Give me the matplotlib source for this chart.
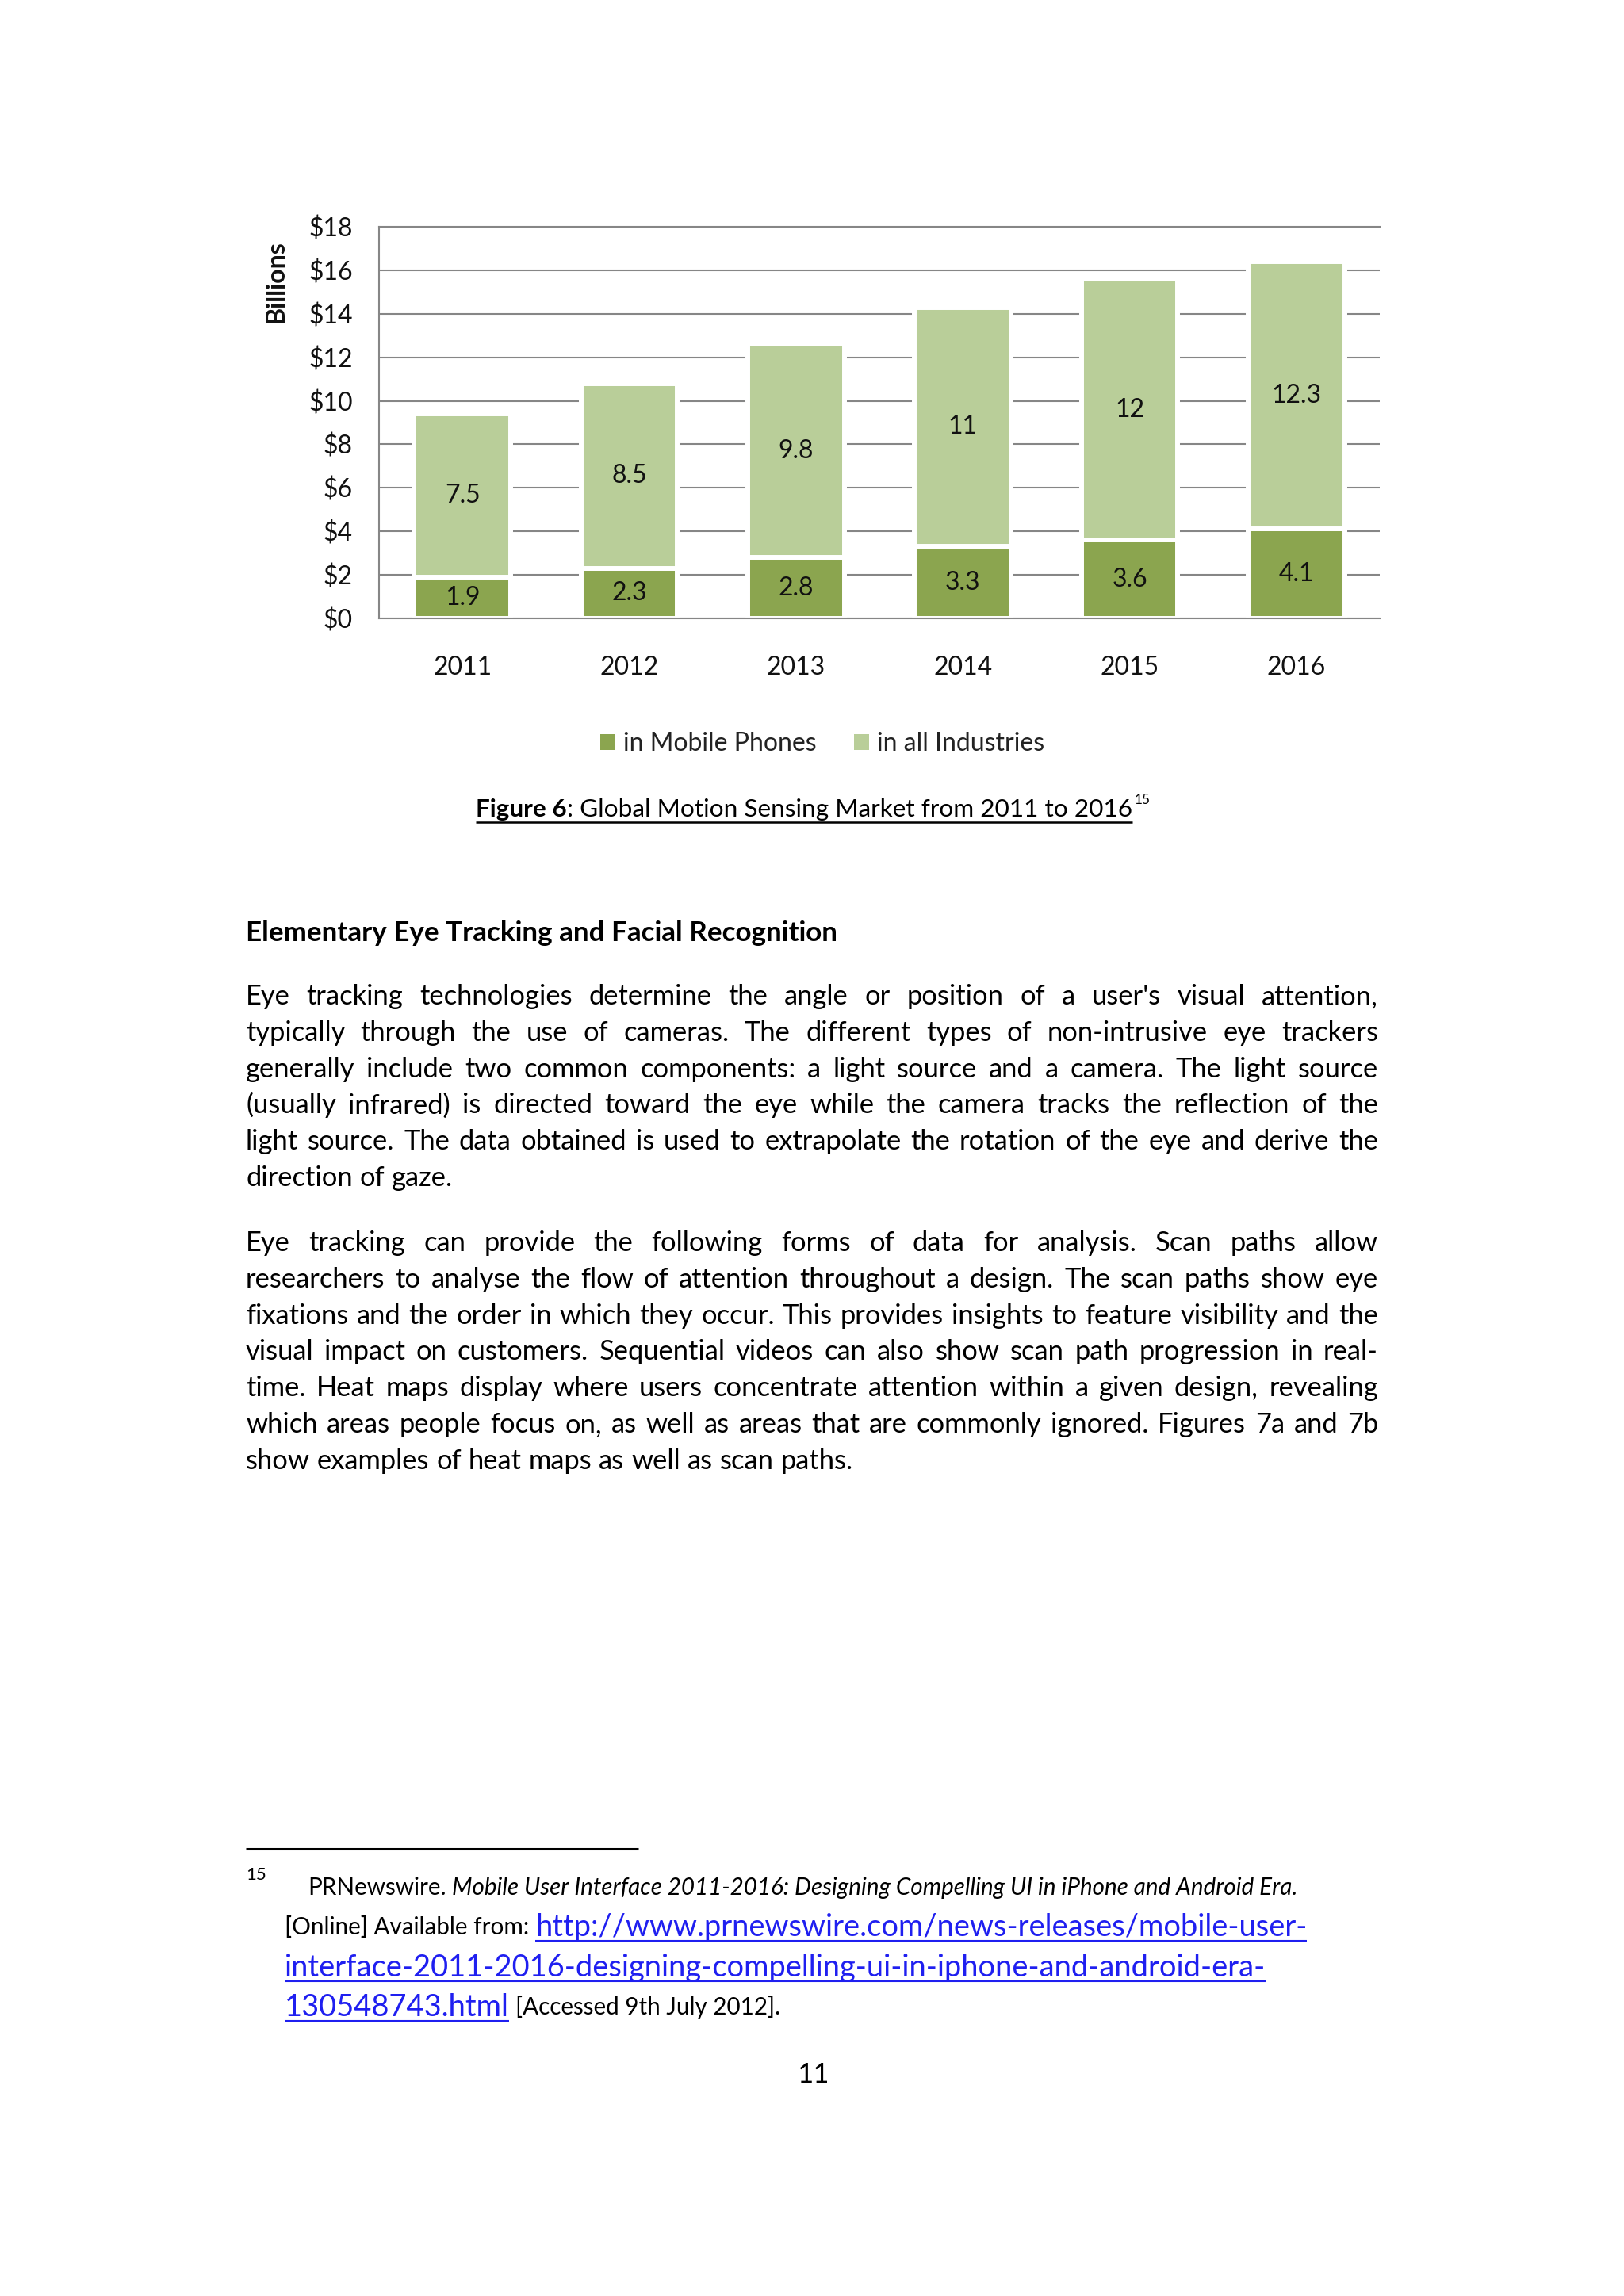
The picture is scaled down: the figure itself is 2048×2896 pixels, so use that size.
import matplotlib
matplotlib.use('Agg')
import matplotlib.pyplot as plt
import numpy as np
from matplotlib.patches import Patch

plt.rcParams['font.family'] = ['Lato', 'DejaVu Sans']

W, H = 2048, 2896
DPI = 100

# chart data
years = ['2011', '2012', '2013', '2014', '2015', '2016']
mobile = [1.9, 2.3, 2.8, 3.3, 3.6, 4.1]
industries = [7.5, 8.5, 9.8, 11, 12, 12.3]
y_ticks = [0, 2, 4, 6, 8, 10, 12, 14, 16, 18]
y_tick_labels = ['$' + str(v) for v in y_ticks]
series_names = ['in Mobile Phones', 'in all Industries']

# page text
caption_bold = 'Figure 6'
caption_rest = ': Global Motion Sensing Market from 2011 to 2016'
caption_note = '15'
heading = 'Elementary Eye Tracking and Facial Recognition'
para1 = [
    "Eye tracking technologies determine the angle or position of a user's visual attention,",
    "typically through the use of cameras. The different types of non-intrusive eye trackers",
    "generally include two common components: a light source and a camera. The light source",
    "(usually infrared) is directed toward the eye while the camera tracks the reflection of the",
    "light source. The data obtained is used to extrapolate the rotation of the eye and derive the",
    "direction of gaze.",
]
para2 = [
    "Eye tracking can provide the following forms of data for analysis. Scan paths allow",
    "researchers to analyse the flow of attention throughout a design. The scan paths show eye",
    "fixations and the order in which they occur. This provides insights to feature visibility and the",
    "visual impact on customers. Sequential videos can also show scan path progression in real-",
    "time. Heat maps display where users concentrate attention within a given design, revealing",
    "which areas people focus on, as well as areas that are commonly ignored. Figures 7a and 7b",
    "show examples of heat maps as well as scan paths.",
]
fn_num = '15'
fn_src = 'PRNewswire.'
fn_title = 'Mobile User Interface 2011-2016: Designing Compelling UI in iPhone and Android Era.'
fn_online = '[Online] Available from:'
fn_url = ['http://www.prnewswire.com/news-releases/mobile-user-',
          'interface-2011-2016-designing-compelling-ui-in-iphone-and-android-era-',
          '130548743.html']
fn_accessed = '[Accessed 9th July 2012].'
page_no = '11'

c_mobile = '#8BA54F'
c_ind = '#B9CE99'
c_grid = '#868686'
c_url = '#1F1FF0'
chart_fs = 23

fig = plt.figure(figsize=(W / DPI, H / DPI), dpi=DPI)
fig.patch.set_facecolor('white')

# page overlay in pixel coordinates (y downwards)
page = fig.add_axes([0, 0, 1, 1])
page.set_xlim(0, W)
page.set_ylim(H, 0)
page.axis('off')
renderer = fig.canvas.get_renderer()


def measure(s, **kw):
    t = page.text(0, 0, s, **kw)
    w = t.get_window_extent(renderer).width
    t.remove()
    return w


def space_w(**kw):
    return measure('n n', **kw) - measure('nn', **kw)


def put(x, y, s, **kw):
    page.text(x, y, s, va='baseline', ha='left', **kw)
    return x + measure(s, **kw)


def draw_line(line, x0, x1, y, justify, **kw):
    words = line.split(' ')
    ws = [measure(w, **kw) for w in words]
    if justify and len(words) > 1:
        gap = (x1 - x0 - sum(ws)) / (len(words) - 1)
    else:
        gap = space_w(**kw)
    x = x0
    for w, ww in zip(words, ws):
        page.text(x, y, w, va='baseline', ha='left', **kw)
        x += ww + gap


def natural(line, **kw):
    words = line.split(' ')
    return sum(measure(w, **kw) for w in words) + (len(words) - 1) * space_w(**kw)


# ---- chart ----
L, R, T, B = 478, 1740, 286, 780
ax = fig.add_axes([L / W, 1 - B / H, (R - L) / W, (B - T) / H])
x = np.arange(len(years))
ax.bar(x, mobile, width=0.58, color=c_mobile, edgecolor='white', linewidth=4.3, zorder=3)
ax.bar(x, industries, width=0.58, bottom=mobile, color=c_ind, edgecolor='white',
       linewidth=4.3, zorder=3)
for i in range(len(years)):
    ax.text(x[i], mobile[i] / 2, '{:g}'.format(mobile[i]), ha='center', va='center',
            fontsize=chart_fs, color='#111111', zorder=5)
    ax.text(x[i], mobile[i] + industries[i] / 2, '{:g}'.format(industries[i]),
            ha='center', va='center', fontsize=chart_fs, color='#111111', zorder=5)

ax.set_xlim(-0.5, len(years) - 0.5)
ax.set_ylim(0, 18)
ax.set_yticks(y_ticks)
ax.set_yticklabels(y_tick_labels)
ax.set_xticks(x)
ax.set_xticklabels(years)
ax.tick_params(axis='y', length=0, pad=24, labelsize=chart_fs, labelcolor='#111111')
ax.tick_params(axis='x', length=0, pad=34, labelsize=chart_fs, labelcolor='#111111')
ax.yaxis.grid(True, color=c_grid, linewidth=1.5)
ax.set_axisbelow(True)
for side in ['left', 'bottom', 'top']:
    ax.spines[side].set_color(c_grid)
    ax.spines[side].set_linewidth(1.5)
    ax.spines[side].set_zorder(4)
ax.spines['right'].set_visible(False)
ax.spines['top'].set_zorder(1)
ax.text(-0.103, 0.86, 'Billions', rotation=90, ha='center', va='center',
        transform=ax.transAxes, fontsize=23, fontweight='bold', color='#111111')

handles = [Patch(facecolor=c_mobile), Patch(facecolor=c_ind)]
ax.legend(handles, series_names, loc='center', bbox_to_anchor=(1037 / W, 1 - 938 / H),
          bbox_transform=fig.transFigure, ncol=2, frameon=False, fontsize=chart_fs,
          handlelength=0.6, handleheight=0.6, handletextpad=0.3, columnspacing=1.5,
          labelcolor='#222222')

# ---- caption ----
cap_w = measure(caption_bold, fontsize=20, fontweight='bold') + measure(caption_rest, fontsize=20)
cap_size = 20 * 825 / cap_w
cy = 1030
cx = put(600, cy, caption_bold, fontsize=cap_size, fontweight='bold')
cx = put(cx, cy, caption_rest, fontsize=cap_size)
page.plot([600, cx], [cy + 7, cy + 7], color='black', linewidth=1.8, solid_capstyle='butt')
put(cx + 3, cy - 16, caption_note, fontsize=cap_size * 0.55)

# ---- heading ----
head_size = 20 * 746 / measure(heading, fontsize=20, fontweight='bold')
put(310, 1187, heading, fontsize=head_size, fontweight='bold')

# ---- body ----
X0, X1 = 310, 1738
body = 20 * 781 / natural(para2[-1], fontsize=20)
widest = max(natural(l, fontsize=body) for l in para1[:-1] + para2[:-1])
if widest > (X1 - X0) - 20:
    body *= ((X1 - X0) - 20) / widest
lh = 45.8
for k, line in enumerate(para1):
    draw_line(line, X0, X1, 1267 + k * lh, k < len(para1) - 1, fontsize=body)
for k, line in enumerate(para2):
    draw_line(line, X0, X1, 1578 + k * lh, k < len(para2) - 1, fontsize=body)

# ---- footnote ----
page.plot([310, 805], [2332, 2332], color='black', linewidth=2.2, solid_capstyle='butt')
fn_w = (measure(fn_src, fontsize=20) + space_w(fontsize=20)
        + measure(fn_title, fontsize=20, style='italic'))
fn_size = 20 * 1247 / fn_w
url_size = 20 * 976 / measure(fn_url[0], fontsize=20)
put(310, 2371, fn_num, fontsize=fn_size * 0.75)
fx = put(388, 2390, fn_src, fontsize=fn_size)
put(fx + space_w(fontsize=fn_size), 2390, fn_title, fontsize=fn_size, style='italic')

ux = put(359, 2440, fn_online, fontsize=fn_size) + space_w(fontsize=fn_size)
for k, u in enumerate(fn_url):
    by = [2442, 2493, 2543][k]
    sx = ux if k == 0 else 359
    ex = put(sx, by, u, fontsize=url_size, color=c_url)
    page.plot([sx, ex], [by + 6, by + 6], color=c_url, linewidth=1.5, solid_capstyle='butt')
put(ex + space_w(fontsize=fn_size), 2541, fn_accessed, fontsize=fn_size)

page.text(1025, 2627, page_no, ha='center', va='baseline', fontsize=25)

fig.savefig('out.png', dpi=DPI, facecolor='white')
